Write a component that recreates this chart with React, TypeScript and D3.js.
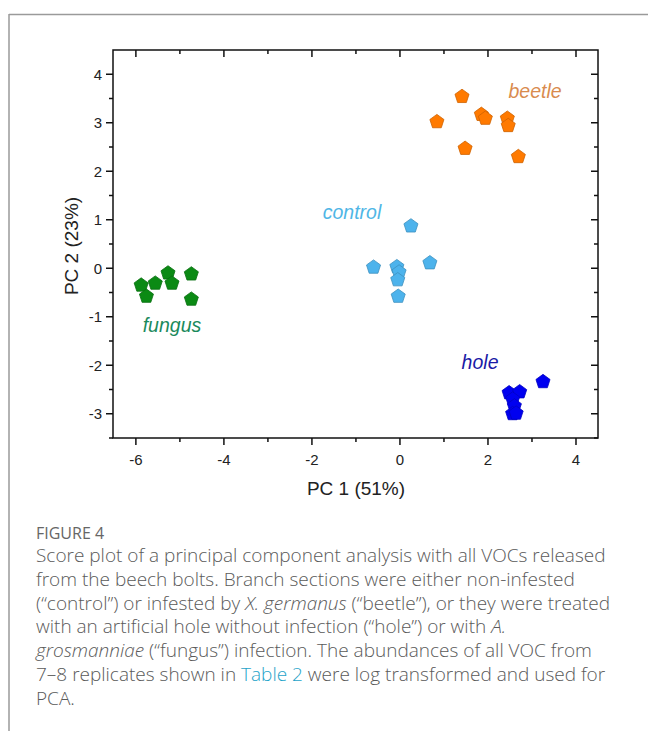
import React from "react";
import * as d3 from "d3";

const groups = ["beetle", "control", "fungus", "hole"];
const groupColors = ["#ff7a00", "#4db3ec", "#0b8a14", "#0000f0"];
const labelColors = ["#d98b4e", "#4fb6e6", "#1b8a5c", "#1a1aa6"];

const beetleX = [1.41, 0.84, 1.85, 1.94, 2.44, 2.46, 1.48, 2.69];
const beetleY = [3.54, 3.02, 3.17, 3.09, 3.09, 2.94, 2.47, 2.30];
const controlX = [0.25, -0.6, -0.07, -0.02, -0.05, -0.04, 0.68];
const controlY = [0.87, 0.02, 0.03, -0.08, -0.24, -0.58, 0.11];
const fungusX = [-5.88, -5.76, -5.56, -5.27, -5.18, -4.74, -4.74];
const fungusY = [-0.35, -0.58, -0.31, -0.10, -0.31, -0.12, -0.64];
const holeX = [3.25, 2.48, 2.72, 2.56, 2.60, 2.56, 2.64];
const holeY = [-2.34, -2.57, -2.55, -2.70, -2.84, -3.00, -2.99];

const labelX = [3.07, -1.09, -5.18, 1.82];
const labelY = [3.65, 1.15, -1.16, -1.93];

const xTicks = [-6, -4, -2, 0, 2, 4];
const xMinor = [-5, -3, -1, 1, 3];
const yTicks = [-3, -2, -1, 0, 1, 2, 3, 4];
const yMinor = [-3.5, -2.5, -1.5, -0.5, 0.5, 1.5, 2.5, 3.5];

const captionLines = [
  [{ t: "Score plot of a principal component analysis with all VOCs released" }],
  [{ t: "from the beech bolts. Branch sections were either non-infested" }],
  [
    { t: "(\u201Ccontrol\u201D) or infested by " },
    { t: "X. germanus", i: true },
    { t: " (\u201Cbeetle\u201D), or they were treated" },
  ],
  [{ t: "with an artificial hole without infection (\u201Chole\u201D) or with " }, { t: "A.", i: true }],
  [{ t: "grosmanniae", i: true }, { t: " (\u201Cfungus\u201D) infection. The abundances of all VOC from" }],
  [
    { t: "7\u20138 replicates shown in " },
    { t: "Table 2", c: "#1fa3c9" },
    { t: " were log transformed and used for" },
  ],
  [{ t: "PCA." }],
];

const pentagon = {
  draw(context: any, size: number) {
    const r = Math.sqrt(size / 2.3776);
    for (let i = 0; i < 5; i++) {
      const a = -Math.PI / 2 + (i * 2 * Math.PI) / 5;
      const px = r * Math.cos(a);
      const py = r * Math.sin(a);
      if (i === 0) context.moveTo(px, py);
      else context.lineTo(px, py);
    }
    context.closePath();
  },
};

export default function App() {
  const W = 648;
  const H = 731;
  const left = 113;
  const right = 598;
  const top = 50;
  const bottom = 438;
  const x = d3.scaleLinear().domain([-6.52, 4.5]).range([left, right]);
  const y = d3.scaleLinear().domain([-3.5, 4.5]).range([bottom, top]);
  const sym = d3.symbol().type(pentagon as any).size(130)();

  const series = [
    { xs: beetleX, ys: beetleY },
    { xs: controlX, ys: controlY },
    { xs: fungusX, ys: fungusY },
    { xs: holeX, ys: holeY },
  ];

  const font = "Arimo, 'Liberation Sans', Arial, sans-serif";
  const capFont = "'Open Sans', Lato, sans-serif";

  return (
    <svg width={W} height={H} style={{ position: "absolute", left: 0, top: 0 }}>
      <rect x={0} y={0} width={W} height={H} fill="#fff" />
      <line x1={9} x2={W} y1={14.5} y2={14.5} stroke="#9a9a9a" strokeWidth={1.5} />
      <line x1={9} x2={9} y1={14} y2={H} stroke="#9a9a9a" strokeWidth={1.5} />

      <rect x={left} y={top} width={right - left} height={bottom - top} fill="none" stroke="#111" strokeWidth={1.5} />

      {xTicks.map((t) => (
        <g key={"xt" + t}>
          <line x1={x(t)} x2={x(t)} y1={bottom} y2={bottom + 7} stroke="#111" strokeWidth={1.5} />
          <line x1={x(t)} x2={x(t)} y1={top} y2={top + 7} stroke="#111" strokeWidth={1.5} />
          <text x={x(t)} y={bottom + 27} textAnchor="middle" fontFamily={font} fontSize={15} fill="#222">
            {t === 0 ? "0" : t < 0 ? "-" + Math.abs(t) : String(t)}
          </text>
        </g>
      ))}
      {xMinor.map((t) => (
        <g key={"xm" + t}>
          <line x1={x(t)} x2={x(t)} y1={bottom} y2={bottom + 4} stroke="#111" strokeWidth={1.5} />
          <line x1={x(t)} x2={x(t)} y1={top} y2={top + 4} stroke="#111" strokeWidth={1.5} />
        </g>
      ))}
      {yTicks.map((t) => (
        <g key={"yt" + t}>
          <line x1={left - 7} x2={left} y1={y(t)} y2={y(t)} stroke="#111" strokeWidth={1.5} />
          <line x1={right - 7} x2={right} y1={y(t)} y2={y(t)} stroke="#111" strokeWidth={1.5} />
          <text x={left - 11} y={y(t) + 5.5} textAnchor="end" fontFamily={font} fontSize={15} fill="#222">
            {t < 0 ? "-" + Math.abs(t) : String(t)}
          </text>
        </g>
      ))}
      {yMinor.map((t) => (
        <g key={"ym" + t}>
          <line x1={left - 4} x2={left} y1={y(t)} y2={y(t)} stroke="#111" strokeWidth={1.5} />
          <line x1={right - 4} x2={right} y1={y(t)} y2={y(t)} stroke="#111" strokeWidth={1.5} />
        </g>
      ))}

      <text x={356} y={495} textAnchor="middle" fontFamily={font} fontSize={19} fill="#222">
        PC 1 (51%)
      </text>
      <text
        transform={`translate(78,${(top + bottom) / 2 + 2}) rotate(-90)`}
        textAnchor="middle"
        fontFamily={font}
        fontSize={19}
        fill="#222"
      >
        PC 2 (23%)
      </text>

      {series.map((s, gi) => (
        <g key={groups[gi]}>
          {s.xs.map((v, i) => (
            <path
              key={i}
              d={sym || ""}
              transform={`translate(${x(v)},${y(s.ys[i])})`}
              fill={groupColors[gi]}
              stroke={d3.color(groupColors[gi])!.darker(0.6).toString()}
              strokeWidth={0.8}
            />
          ))}
          <text
            x={x(labelX[gi])}
            y={y(labelY[gi]) + 7}
            textAnchor="middle"
            fontFamily={font}
            fontStyle="italic"
            fontSize={19.5}
            fill={labelColors[gi]}
          >
            {groups[gi]}
          </text>
        </g>
      ))}

      <text x={36} y={539} fontFamily={capFont} fontSize={16} fill="#666" fontWeight={500}>
        FIGURE 4
      </text>
      {captionLines.map((line, li) => (
        <text key={li} x={36} y={562 + li * 23.8} fontFamily={capFont} fontSize={19} fill="#5a5a5a" fontWeight={300}>
          {line.map((seg: any, si) => (
            <tspan key={si} fontStyle={seg.i ? "italic" : "normal"} fill={seg.c || "#5a5a5a"}>
              {seg.t}
            </tspan>
          ))}
        </text>
      ))}
    </svg>
  );
}
